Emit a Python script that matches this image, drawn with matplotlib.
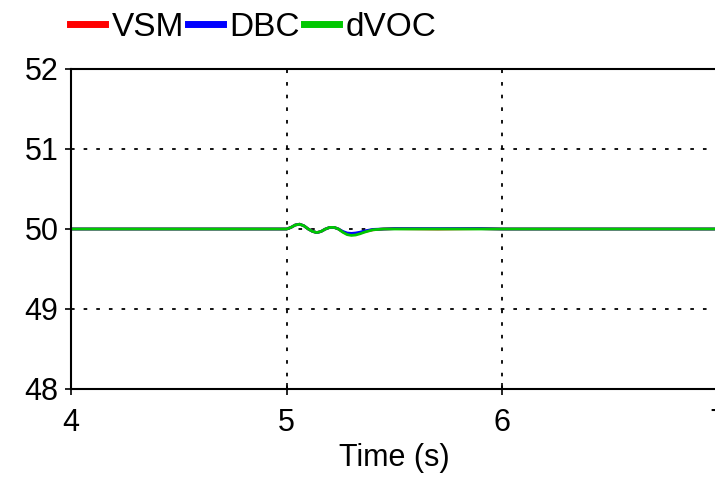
import matplotlib
matplotlib.use("Agg")
import matplotlib.pyplot as plt

plt.rcParams['font.family'] = ['Liberation Sans', 'DejaVu Sans']

# time axis (s) and frequency (Hz) for each controller
t = [4.0, 5.0, 5.02, 5.04, 5.06, 5.08, 5.10, 5.12, 5.14, 5.16, 5.18, 5.20,
     5.22, 5.24, 5.26, 5.28, 5.30, 5.32, 5.34, 5.36, 5.38, 5.40, 5.45, 5.50,
     5.70, 5.90, 6.0, 7.0]
vsm = [50.0, 50.0, 50.02, 50.05, 50.06, 50.04, 50.0, 49.97, 49.955, 49.97, 50.0, 50.02,
       50.02, 50.0, 49.965, 49.94, 49.935, 49.94, 49.95, 49.965, 49.98, 49.99, 50.0, 50.005,
       50.0, 50.005, 50.0, 50.0]
dbc = [50.0, 50.0, 50.02, 50.05, 50.06, 50.04, 50.0, 49.97, 49.955, 49.97, 50.0, 50.02,
       50.02, 50.0, 49.97, 49.95, 49.945, 49.95, 49.96, 49.975, 49.985, 49.995, 50.0, 50.005,
       50.005, 50.005, 50.0, 50.0]
dvoc = [50.0, 50.0, 50.02, 50.05, 50.06, 50.04, 50.0, 49.97, 49.955, 49.97, 50.0, 50.02,
        50.02, 50.0, 49.96, 49.93, 49.92, 49.925, 49.94, 49.96, 49.975, 49.99, 50.0, 50.0,
        50.0, 50.0, 50.0, 50.0]

xticks = [4, 5, 6, 7]
yticks = [48, 49, 50, 51, 52]

fig = plt.figure(figsize=(7.15, 4.82), dpi=100)
ax = fig.add_axes([71/715, 1-389/482, 647/715, 320/482])

ax.plot(t, vsm, color='#ff0000', lw=2, label='VSM')
ax.plot(t, dbc, color='#0000ff', lw=2, label='DBC')
ax.plot(t, dvoc, color='#00c800', lw=2, label='dVOC')

ax.set_xlim(4, 7)
ax.set_ylim(48, 52)
ax.set_xticks(xticks)
ax.set_yticks(yticks)
ax.grid(True, color='black', linestyle=(0, (2, 5)), lw=1.3)
ax.tick_params(axis='both', labelsize=22, color='black', width=1.2)
ax.tick_params(axis='x', direction='inout', length=8, pad=10)
ax.tick_params(axis='y', direction='out', length=4, pad=5)
for s in ax.spines.values():
    s.set_linewidth(1.5)
ax.set_xlabel('Time (s)', fontsize=22, labelpad=3)

fig.legend(loc='center left', bbox_to_anchor=(70/715, 1-27/482), ncol=3,
           frameon=False, fontsize=24, handlelength=1.05, handletextpad=0.2,
           columnspacing=0.12, borderpad=0, borderaxespad=0)
for line in fig.legends[0].get_lines():
    line.set_linewidth(5)

fig.savefig('out.png', dpi=100)
